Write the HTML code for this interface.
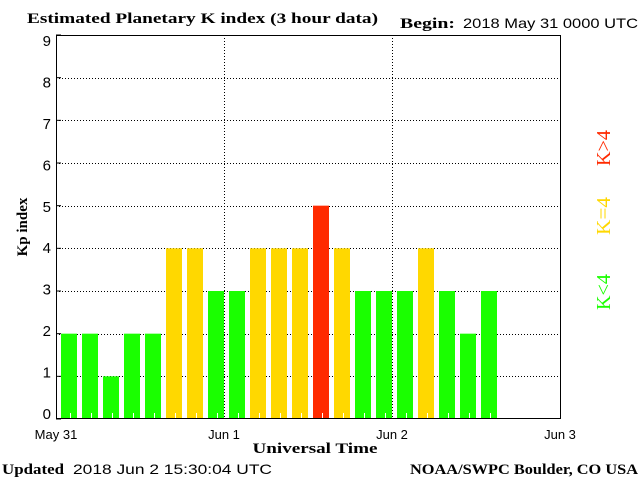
<!DOCTYPE html>
<html><head><meta charset="utf-8"><style>
body{margin:0;background:#fff;}
svg{display:block;font-family:"Liberation Serif",serif;}
.s{font-family:"Liberation Sans",sans-serif;}
</style></head><body>
<svg id="c" width="640" height="480">
<text x="27" y="23" font-size="15" font-weight="bold" textLength="351" lengthAdjust="spacingAndGlyphs">Estimated Planetary K index (3 hour data)</text>
<text x="400" y="28" font-size="15" font-weight="bold" textLength="55" lengthAdjust="spacingAndGlyphs">Begin:</text>
<text x="463" y="28" font-size="14" class="s" textLength="175" lengthAdjust="spacingAndGlyphs">2018 May 31 0000 UTC</text>
<g id="grid"></g>
<g id="bars"></g>
<rect x="56.5" y="35.5" width="504" height="383" fill="none" stroke="#000" stroke-width="1"/>
<g id="axes"></g>
<text x="27" y="227" font-size="15" font-weight="bold" transform="rotate(-90 27 227)" text-anchor="middle">Kp index</text>
<text x="315" y="453" font-size="15" font-weight="bold" text-anchor="middle" textLength="125" lengthAdjust="spacingAndGlyphs">Universal Time</text>
<text x="2" y="474" font-size="15" font-weight="bold" textLength="62" lengthAdjust="spacingAndGlyphs">Updated</text>
<text x="73" y="474" font-size="14" class="s" textLength="199" lengthAdjust="spacingAndGlyphs">2018 Jun  2 15:30:04 UTC</text>
<text x="410" y="474" font-size="15" font-weight="bold" textLength="228" lengthAdjust="spacingAndGlyphs">NOAA/SWPC Boulder, CO USA</text>
<text x="610" y="148" font-size="20" fill="#ff2a00" transform="rotate(-90 610 148)" text-anchor="middle" textLength="36" lengthAdjust="spacingAndGlyphs">K&gt;4</text>
<text x="610" y="216" font-size="20" fill="#ffd800" transform="rotate(-90 610 216)" text-anchor="middle" textLength="38" lengthAdjust="spacingAndGlyphs">K=4</text>
<text x="610" y="292" font-size="20" fill="#1aff00" transform="rotate(-90 610 292)" text-anchor="middle" textLength="36" lengthAdjust="spacingAndGlyphs">K&lt;4</text>
</svg>
<script>
const kpValues=[2,2,1,2,2,4,4,3,3,4,4,4,5,4,3,3,3,4,3,2,3];
const yTicks=[0,1,2,3,4,5,6,7,8,9];
const dayLabels=["May 31","Jun 1","Jun 2","Jun 3"];
const NS="http://www.w3.org/2000/svg";
const L=56,R=560,T=35,B=419;
const y=v=>B-(v/9)*(B-T);
const slot=(R-L)/24;
const x=i=>L+i*slot;
const xd=d=>L+d*(R-L)/3;
function mk(t,a,p){const e=document.createElementNS(NS,t);for(const k in a)e.setAttribute(k,a[k]);p.appendChild(e);return e;}
const grid=document.getElementById('grid'),bars=document.getElementById('bars'),axes=document.getElementById('axes');
yTicks.forEach(v=>{
 if(v>0&&v<9){const g=mk('line',{x1:L,x2:R,y1:Math.round(y(v))+0.5,y2:Math.round(y(v))+0.5,stroke:'#000','stroke-dasharray':'1,2'},grid);
 
 }
 const tk=mk('line',{x1:L,x2:L+5,y1:y(v),y2:y(v),stroke:'#000'},axes);
 
 
 const t=mk('text',{x:L-5,y:y(v)+6-6+11*v/9,'text-anchor':'end','font-size':'15',class:'s'},axes);t.textContent=v;
 
 
});
dayLabels.forEach((d,i)=>{
 if(i>0&&i<3){const g=mk('line',{x1:xd(i)+0.5,x2:xd(i)+0.5,y1:T,y2:B,stroke:'#000','stroke-dasharray':'1,2'},grid);
 
 }
 const t=mk('text',{x:xd(i),y:B+20,'text-anchor':'middle','font-size':'13',class:'s'},axes);t.textContent=d;
 
 
});
kpValues.forEach((v,i)=>{
 const c=v>4?'#ff2a00':(v==4?'#ffd800':'#1aff00');
 const r=mk('rect',{x:x(i)+5,y:y(v),width:16,height:B-y(v),fill:c},bars);
 
 
 const m=mk('line',{x1:x(i)+14.5,x2:x(i)+14.5,y1:B-6,y2:B,stroke:'#fff'},bars);
 
 
});
</script>
</body></html>
